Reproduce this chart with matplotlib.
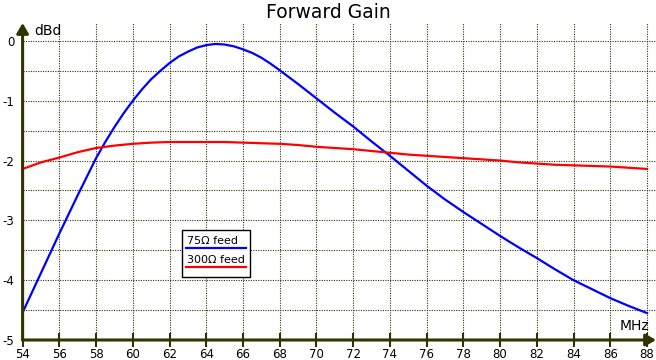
import matplotlib
matplotlib.use("Agg")
import matplotlib.pyplot as plt
import numpy as np

# frequency (MHz) and forward gain (dBd)
freq_75 = [54, 55, 56, 57, 57.5, 58, 58.5, 59, 59.5, 60, 60.5, 61, 61.5, 62, 62.5,
           63, 63.5, 64, 64.5, 65, 65.5, 66, 66.5, 67, 67.5, 68, 69, 70, 71, 72,
           73, 74, 75, 76, 77, 78, 79, 80, 81, 82, 83, 84, 85, 86, 87, 88]
gain_75 = [-4.54, -3.88, -3.22, -2.58, -2.27, -1.96, -1.69, -1.44, -1.21, -1.0,
           -0.81, -0.64, -0.5, -0.37, -0.26, -0.18, -0.11, -0.07, -0.05, -0.06,
           -0.09, -0.14, -0.2, -0.28, -0.38, -0.49, -0.72, -0.96, -1.2, -1.43,
           -1.68, -1.92, -2.17, -2.42, -2.65, -2.86, -3.06, -3.26, -3.45, -3.63,
           -3.82, -4.0, -4.15, -4.3, -4.43, -4.55]
freq_300 = [54, 55, 56, 57, 58, 59, 60, 61, 62, 63, 64, 65, 66, 67, 68, 69, 70,
            71, 72, 73, 74, 75, 76, 77, 78, 79, 80, 81, 82, 83, 84, 85, 86, 87, 88]
gain_300 = [-2.14, -2.03, -1.95, -1.86, -1.79, -1.75, -1.72, -1.70, -1.69, -1.69,
            -1.69, -1.69, -1.70, -1.71, -1.72, -1.74, -1.77, -1.79, -1.81,
            -1.84, -1.87, -1.90, -1.92, -1.94, -1.96, -1.98, -2.0, -2.03, -2.05,
            -2.07, -2.08, -2.09, -2.10, -2.12, -2.14]
x_ticks = list(range(54, 89, 2))
y_ticks = [0, -1, -2, -3, -4, -5]

axis_col = "#333300"
W, H = 656, 360
fig = plt.figure(figsize=(W / 100, H / 100), dpi=100)
x0, x1, y0, y1 = 22.6, 656, 340, 23
ax = fig.add_axes([x0 / W, 1 - y0 / H, (x1 - x0) / W, (y0 - y1) / H])
ppm = (647 - 22.6) / 34
ax.set_xlim(54, 54 + (x1 - x0) / ppm)
ax.set_ylim(-5, 0.3)

for s in ax.spines.values():
    s.set_visible(False)

# dotted grid
for v in np.arange(-4.5, 0.01, 0.5):
    ax.axhline(v, color=axis_col, lw=0.8, ls=(0, (1, 1.2)), zorder=1)
for v in x_ticks[1:]:
    ax.axvline(v, color=axis_col, lw=0.8, ls=(0, (1, 1.2)), zorder=1)

ax.plot(freq_75, gain_75, color="#0000ff", lw=1.6, zorder=3)
ax.plot(freq_300, gain_300, color="#ff0000", lw=1.6, zorder=3)

ax.set_xticks(x_ticks)
ax.set_xticklabels([str(t) for t in x_ticks])
ax.set_yticks(y_ticks)
ax.set_yticklabels([str(t) for t in y_ticks])
ax.tick_params(axis="x", direction="inout", length=10, width=1.5, color=axis_col,
               labelsize=8.5, pad=1)
ax.tick_params(axis="y", length=0, labelsize=8.5, pad=6)

# axes with arrows
ax.annotate("", xy=(1.0, 0), xycoords="axes fraction", xytext=(0, 0),
            arrowprops=dict(arrowstyle="-|>,head_length=0.6,head_width=0.35",
                            color=axis_col, lw=2.2, shrinkA=0, shrinkB=0),
            annotation_clip=False, zorder=5)
ax.annotate("", xy=(0, 1.0), xycoords="axes fraction", xytext=(0, 0),
            arrowprops=dict(arrowstyle="-|>,head_length=0.6,head_width=0.35",
                            color=axis_col, lw=2.2, shrinkA=0, shrinkB=0),
            annotation_clip=False, zorder=5)

fig.text(328 / W, 1 - 13 / H, "Forward Gain", ha="center", va="center", fontsize=13.5)
fig.text(34 / W, 1 - 31 / H, "dBd", ha="left", va="center", fontsize=10)
fig.text(649 / W, 1 - 326 / H, "MHz", ha="right", va="center", fontsize=10)

# legend box
bx0, by0, bx1, by1 = 182, 230, 250, 277
fig.patches.append(plt.Rectangle((bx0 / W, 1 - by1 / H), (bx1 - bx0) / W, (by1 - by0) / H,
                                 transform=fig.transFigure, fill=True, facecolor="white",
                                 edgecolor="black", lw=1.0, zorder=10))
fig.text(187 / W, 1 - 241 / H, "75Ω feed", ha="left", va="center", fontsize=8, zorder=11)
fig.text(187 / W, 1 - 260 / H, "300Ω feed", ha="left", va="center", fontsize=8, zorder=11)
fig.lines.append(plt.Line2D([186 / W, 246 / W], [1 - 248 / H, 1 - 248 / H],
                            transform=fig.transFigure, color="#0000ff", lw=1.6, zorder=11))
fig.lines.append(plt.Line2D([186 / W, 246 / W], [1 - 267 / H, 1 - 267 / H],
                            transform=fig.transFigure, color="#ff0000", lw=1.6, zorder=11))

fig.savefig("out.png", dpi=100, facecolor="white")
